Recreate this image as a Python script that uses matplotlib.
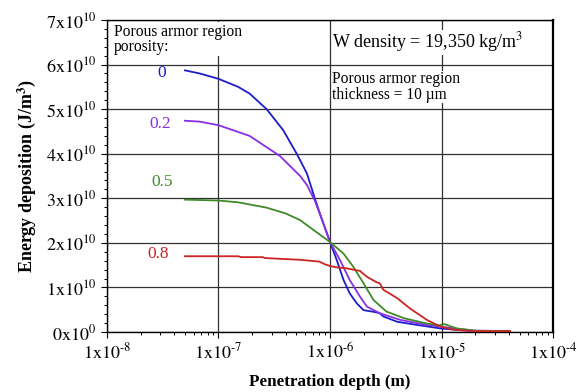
import matplotlib
matplotlib.use('Agg')
import matplotlib.pyplot as plt
from matplotlib.ticker import FixedLocator, LogLocator, NullFormatter, MultipleLocator

plt.rcParams['font.family'] = ['Liberation Serif', 'DejaVu Serif']
plt.rcParams['mathtext.fontset'] = 'stix'

# energy deposition vs depth, one curve per porosity (values in 1e10 J/m^3)
x_p0 = [5e-8, 6.8e-8, 1e-7, 1.5e-7, 1.9e-7, 2.7e-7, 3.8e-7, 5.0e-7, 6.2e-7, 7.3e-7, 8.1e-7, 1e-6,
        1.15e-6, 1.32e-6, 1.5e-6, 1.74e-6, 2.0e-6, 2.5e-6, 2.8e-6, 3.0e-6, 4e-6, 6e-6, 9.8e-6,
        1.5e-5, 2e-5, 4.1e-5]
y_p0 = [5.87, 5.80, 5.68, 5.50, 5.35, 5.0, 4.53, 4.01, 3.56, 3.0, 2.66, 2.02,
        1.61, 1.17, 0.87, 0.64, 0.49, 0.45, 0.42, 0.35, 0.23, 0.16, 0.08,
        0.04, 0.02, 0.02]

x_p2 = [5e-8, 6.8e-8, 1e-7, 1.9e-7, 3.55e-7, 5.4e-7, 6.2e-7, 7.3e-7, 8.1e-7, 1e-6, 1.23e-6, 1.5e-6,
        1.86e-6, 2.14e-6, 2.8e-6, 4.3e-6, 7.4e-6, 1.3e-5, 2e-5, 4.1e-5]
y_p2 = [4.74, 4.72, 4.64, 4.40, 3.95, 3.50, 3.30, 2.95, 2.65, 2.02, 1.61, 1.17,
        0.79, 0.57, 0.42, 0.27, 0.16, 0.08, 0.03, 0.02]

x_p5 = [5e-8, 1e-7, 1.5e-7, 2.7e-7, 4e-7, 5.4e-7, 7.1e-7, 1e-6, 1.32e-6, 1.62e-6, 2.0e-6, 2.45e-6,
        3.2e-6, 4.6e-6, 7.4e-6, 9.5e-6, 1.05e-5, 1.37e-5, 2e-5, 4.1e-5]
y_p5 = [2.97, 2.95, 2.91, 2.79, 2.66, 2.51, 2.29, 2.02, 1.76, 1.46, 1.09, 0.72,
        0.46, 0.31, 0.19, 0.15, 0.18, 0.08, 0.03, 0.02]

x_p8 = [5e-8, 1.5e-7, 1.6e-7, 2.5e-7, 2.6e-7, 5.4e-7, 8e-7, 9e-7, 1e-6, 1.15e-6, 1.4e-6, 1.86e-6,
        2.0e-6, 2.14e-6, 2.6e-6, 2.8e-6, 3.0e-6, 4e-6, 5.2e-6, 7.4e-6, 9.8e-6, 1.3e-5, 2e-5, 4.1e-5]
y_p8 = [1.70, 1.70, 1.68, 1.68, 1.66, 1.62, 1.58, 1.52, 1.48, 1.45, 1.43, 1.37,
        1.30, 1.24, 1.12, 1.09, 0.95, 0.76, 0.53, 0.27, 0.12, 0.05, 0.02, 0.02]

labels = ['0', '0.2', '0.5', '0.8']
colors = ['#1c1ccc', '#8a2ee6', '#3f8a2a', '#cc2424']
# where each porosity label sits (depth, energy in 1e10 J/m^3)
label_x = [3.1e-8, 3.0e-8, 3.15e-8, 2.9e-8]
label_y = [5.82, 4.66, 3.36, 1.74]

xticks = [1e-8, 1e-7, 1e-6, 1e-5, 1e-4]
xticklabels = ['$\\mathrm{1x10^{\u2010 8}}$', '$\\mathrm{1x10^{\u2010 7}}$', '$\\mathrm{1x10^{\u2010 6}}$',
               '$\\mathrm{1x10^{\u2010 5}}$', '$\\mathrm{1x10^{\u2010 4}}$']
yticks = [0, 1, 2, 3, 4, 5, 6, 7]
yticklabels = [r'$\mathrm{0x10^{0}}$'] + [r'$\mathrm{%dx10^{10}}$' % v for v in yticks[1:]]

fig = plt.figure(figsize=(5.78, 3.92), dpi=100)
ax = fig.add_axes([0.185, 0.153, 0.772, 0.796])

series = [(x_p0, y_p0), (x_p2, y_p2), (x_p5, y_p5), (x_p8, y_p8)]
for (xs, ys), c in zip(series, colors):
    ax.plot(xs, [v * 1e10 for v in ys], color=c, lw=1.3, zorder=3)

ax.set_xscale('log')
ax.set_xlim(1e-8, 1e-4)
ax.set_ylim(0, 7e10)
ax.xaxis.set_major_locator(FixedLocator(xticks))
ax.set_xticklabels(xticklabels)
ax.xaxis.set_minor_locator(LogLocator(base=10, subs=range(2, 10)))
ax.xaxis.set_minor_formatter(NullFormatter())
ax.set_yticks([v * 1e10 for v in yticks])
ax.set_yticklabels(yticklabels)
ax.yaxis.set_minor_locator(MultipleLocator(0.2e10))

ax.tick_params(axis='both', which='major', labelsize=13, length=4, width=0.8, direction='out')
ax.tick_params(axis='both', which='minor', length=2.5, width=0.7, direction='out')
ax.grid(True, which='major', color='#333333', lw=0.9)
ax.set_axisbelow(True)
for sp in ax.spines.values():
    sp.set_color('black')
    sp.set_linewidth(1.0)
ax.spines['right'].set_linewidth(1.6)

ax.set_xlabel('Penetration depth (m)', fontsize=12.3, fontweight='bold', labelpad=8)
ax.set_ylabel(r'Energy deposition (J/m$^\mathbf{3}$)', fontsize=13, fontweight='bold', labelpad=6)

for lab, c, lx, ly in zip(labels, colors, label_x, label_y):
    ax.text(lx, ly * 1e10, lab, color=c, fontsize=12.5, ha='center', va='center', zorder=4)

ax.text(1.15e-8, 6.92e10, 'Porous armor region\nporosity:', fontsize=11.2, va='top', ha='left',
        linespacing=0.95, zorder=4, bbox=dict(facecolor='white', edgecolor='none', pad=1))
ax.text(1.05e-6, 6.5e10, r'W density = 19,350 kg/m$^3$', fontsize=13, va='center', ha='left',
        zorder=4, bbox=dict(facecolor='white', edgecolor='none', pad=0.5))
ax.text(1.05e-6, 5.5e10, 'Porous armor region\nthickness = 10 \u00b5m', fontsize=11.2, va='center',
        ha='left', linespacing=0.95, zorder=4, bbox=dict(facecolor='white', edgecolor='none', pad=0.5))

fig.savefig('out.png', dpi=100)
